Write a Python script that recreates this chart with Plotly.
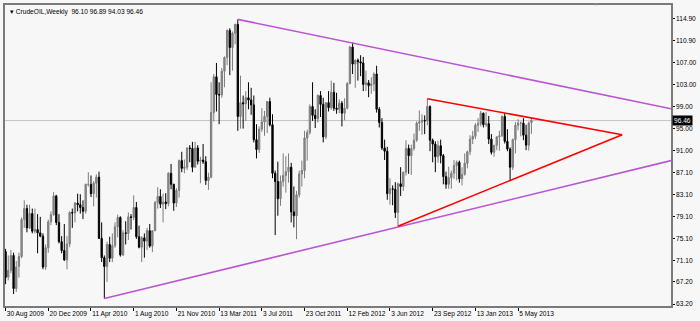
import plotly.graph_objects as go
import pandas as pd

# ---- weekly bars (MT4 week start = Sunday) ----
start_week = "2009-08-30"

opens = [
72.7,68.1,69.3,72.0,66.0,70.0,71.8,78.5,80.5,77.0,
79.6,76.4,76.7,76.1,75.5,69.9,73.4,78.1,79.4,82.8,
78.0,74.5,72.9,71.2,74.1,79.8,79.7,81.5,81.2,80.7,
80.0,84.9,84.9,83.2,85.1,86.2,75.1,71.6,70.0,74.0,
71.5,73.8,77.2,78.9,72.1,76.1,76.0,79.0,78.9,80.7,
75.4,73.5,75.2,74.6,76.5,73.7,76.5,81.6,82.7,81.3,
81.7,81.4,86.9,84.9,81.5,83.8,89.2,87.8,88.0,91.5,
91.4,88.0,91.5,89.1,89.3,89.0,85.6,86.2,97.9,104.4,
101.2,101.1,105.4,107.9,112.8,109.7,112.3,113.9,97.2,99.7,
99.5,100.6,100.2,99.3,93.0,91.2,94.9,96.2,97.2,99.9,
95.7,86.9,85.4,82.3,85.4,86.5,87.2,88.0,79.9,79.2,
83.0,86.8,87.4,93.3,94.3,99.0,97.4,96.8,101.0,99.4,
93.5,99.7,98.8,101.6,98.7,98.5,99.6,97.8,98.7,103.2,
109.8,106.7,107.4,107.1,106.9,103.0,103.3,102.8,103.1,104.9,
98.5,96.1,91.5,90.9,83.2,84.1,84.0,79.8,85.0,84.5,
87.1,91.4,90.1,91.4,92.9,96.0,96.2,96.5,96.4,99.0,
92.9,92.2,89.9,91.9,90.1,86.3,84.9,86.1,86.9,88.3,
88.9,85.9,86.7,88.7,90.8,93.1,93.6,95.6,95.9,97.8,
95.7,95.9,93.1,90.7,92.0,93.5,93.7,97.2,92.7,91.3,
88.0,93.0,95.6,96.0,96.0,93.8,92.0,96.10]

highs = [
73.2,72.0,73.0,72.5,71.0,72.5,78.9,82.0,81.2,81.2,
80.5,80.5,79.5,79.0,76.0,74.0,78.5,80.0,83.5,83.0,
79.5,75.5,77.7,75.5,80.0,80.5,81.7,83.2,83.1,82.0,
85.0,87.1,86.5,85.5,86.7,87.2,78.0,72.0,74.5,75.4,
76.0,78.0,79.4,79.1,76.6,78.2,79.8,79.5,82.9,81.7,
77.4,75.5,76.0,77.0,77.7,76.5,81.9,84.4,84.0,83.2,
83.3,87.1,88.6,85.0,84.2,89.4,90.8,89.4,91.6,92.0,
92.6,92.6,92.0,89.9,92.2,90.0,87.0,103.4,104.9,106.9,
103.4,106.0,108.1,113.0,113.2,112.6,114.0,114.8,104.6,101.0,
101.8,103.4,102.4,101.0,95.8,95.4,98.7,98.2,100.0,100.6,
97.6,87.4,89.0,86.5,90.5,90.0,90.5,88.8,84.5,83.7,
87.4,89.2,94.6,94.8,99.4,103.4,98.5,101.2,101.8,100.6,
99.8,101.8,103.7,103.3,101.5,100.3,100.0,100.5,103.4,110.0,
110.6,107.5,107.7,108.3,108.0,105.5,103.8,104.3,105.2,106.4,
98.9,96.9,93.0,91.7,86.0,84.7,85.3,85.2,88.0,87.2,
92.9,92.1,92.1,94.1,96.3,98.3,97.6,97.4,100.4,99.2,
93.2,92.7,92.8,93.0,90.4,87.2,88.1,87.4,89.3,89.2,
89.2,88.0,90.5,91.0,93.8,94.6,96.0,96.9,98.2,97.9,
98.0,97.3,94.0,92.0,93.6,94.6,97.4,97.8,94.9,91.6,
93.2,96.2,96.7,96.3,96.9,95.7,96.3,96.89]

lows = [
66.8,67.5,68.8,65.0,65.4,68.0,71.5,77.0,76.2,76.8,
76.0,76.0,72.4,75.3,69.5,69.4,72.5,77.5,79.2,77.5,
74.2,72.4,71.0,69.5,73.5,77.0,78.0,80.0,79.6,78.6,
79.6,84.5,82.6,80.9,82.5,75.0,70.8,64.2,67.2,70.8,
70.8,73.4,75.3,71.8,71.9,74.0,74.8,76.7,78.4,75.0,
73.3,70.8,71.6,73.0,73.4,72.6,76.4,80.5,80.6,78.0,
80.4,80.9,84.0,80.1,80.8,82.5,87.1,86.9,87.5,88.9,
87.1,88.0,88.5,85.1,88.6,84.8,83.9,86.0,96.3,98.1,
95.8,100.6,102.5,106.5,104.7,105.5,110.3,94.6,95.0,95.0,
96.4,98.5,97.5,92.5,89.6,90.6,94.4,93.7,94.2,95.4,
86.0,75.7,79.2,81.0,84.5,83.4,85.2,78.0,77.1,74.95,
82.5,84.5,86.0,89.2,93.9,96.4,95.1,96.1,97.1,92.5,
93.1,98.1,98.4,98.2,97.7,97.8,95.4,96.5,98.5,103.0,
104.9,102.4,103.7,104.5,101.8,101.8,100.7,101.3,101.8,97.9,
95.2,91.1,89.3,82.1,81.2,81.1,78.8,77.3,82.8,83.7,
86.5,86.8,86.6,91.0,92.6,94.6,93.9,94.0,95.6,90.9,
88.9,87.1,88.8,88.7,84.9,84.1,84.1,84.1,85.9,85.6,
85.2,84.7,86.5,87.8,90.2,92.2,93.1,94.4,95.4,95.2,
95.3,92.2,90.3,89.9,91.1,91.0,93.5,92.3,90.9,85.6,
87.5,90.5,94.7,93.6,92.9,91.1,91.0,94.03]

closes = [
68.0,69.3,72.0,66.0,69.9,71.8,78.5,80.5,77.0,79.6,
76.4,76.7,76.1,75.5,69.9,73.4,78.1,79.4,82.8,78.0,
74.5,72.9,71.2,74.1,79.8,79.7,81.5,81.2,80.7,80.0,
84.9,84.9,83.2,85.1,86.2,75.1,71.6,70.0,74.0,71.5,
73.8,77.2,78.9,72.1,76.1,76.0,79.0,78.9,80.7,75.4,
73.5,75.2,74.6,76.5,73.7,76.5,81.6,82.7,81.3,81.7,
81.4,86.9,84.9,81.5,83.8,89.2,87.8,88.0,91.5,91.4,
88.0,91.5,89.1,89.3,89.0,85.6,86.2,97.9,104.4,101.2,
101.1,105.4,107.9,112.8,109.7,112.3,113.9,97.2,99.7,99.5,
100.6,100.2,99.3,93.0,91.2,94.9,96.2,97.2,99.9,95.7,
86.9,85.4,82.3,85.4,86.5,87.2,88.0,79.9,79.2,83.0,
86.8,87.4,93.3,94.3,99.0,97.4,96.8,101.0,99.4,93.5,
99.7,98.8,101.6,98.7,98.5,99.6,97.8,98.7,103.2,109.8,
106.7,107.4,107.1,106.9,103.0,103.3,102.8,103.1,104.9,98.5,
96.1,91.5,90.9,83.2,84.1,84.0,79.8,85.0,84.5,87.1,
91.4,90.1,91.4,92.9,96.0,96.2,96.5,96.4,99.0,92.9,
92.2,89.9,91.9,90.1,86.3,84.9,86.1,86.9,88.3,88.9,
85.9,86.7,88.7,90.8,93.1,93.6,95.6,95.9,97.8,95.7,
95.9,93.1,90.7,92.0,93.5,93.7,97.2,92.7,91.3,88.0,
93.0,95.6,96.0,96.0,93.8,92.0,96.0,96.46]

# ---- trend lines (date, price) ----
upper_purple_x = ["2011-05-01", "2014-06-10"]
upper_purple_y = [114.8, 98.6]
lower_purple_x = ["2010-05-16", "2014-06-10"]
lower_purple_y = [64.2, 89.2]
red_upper_x = ["2012-09-09", "2014-02-02"]
red_upper_y = [100.4, 93.9]
red_lower_x = ["2012-06-24", "2014-02-02"]
red_lower_y = [77.3, 93.9]

# ---- axis ticks ----
x_tick_dates = ["2009-08-30", "2009-12-20", "2010-04-11", "2010-08-01", "2010-11-21",
                "2011-03-13", "2011-07-03", "2011-10-23", "2012-02-12", "2012-06-03",
                "2012-09-23", "2013-01-13", "2013-05-05"]
x_tick_text = ["30 Aug 2009", "20 Dec 2009", "11 Apr 2010", "1 Aug 2010", "21 Nov 2010",
               "13 Mar 2011", "3 Jul 2011", "23 Oct 2011", "12 Feb 2012", "3 Jun 2012",
               "23 Sep 2012", "13 Jan 2013", "5 May 2013"]
y_tick_vals = [63.2, 67.2, 71.1, 75.1, 79.1, 83.1, 87.1, 91.0, 95.0, 99.0, 103.0, 107.0, 110.9, 114.9]
y_tick_text = ["63.20", "67.20", "71.10", "75.10", "79.10", "83.10", "87.10", "91.00",
               "95.00", "99.00", "103.00", "107.00", "110.90", "114.90"]

dates = pd.date_range(start_week, periods=len(closes), freq="7D")

FONT = "Liberation Sans"
BG = "#f7f7f7"
AX = "#7a7a7a"

fig = go.Figure()
fig.add_trace(go.Candlestick(
    x=dates, open=opens, high=highs, low=lows, close=closes,
    increasing=dict(line=dict(color="#7c7c7c", width=1), fillcolor="#909090"),
    decreasing=dict(line=dict(color="#000000", width=1), fillcolor="#000000"),
    whiskerwidth=0, hoverinfo="skip", showlegend=False))

for xs, ys, col in [(upper_purple_x, upper_purple_y, "#BA55D3"),
                    (lower_purple_x, lower_purple_y, "#BA55D3"),
                    (red_upper_x, red_upper_y, "#FF0000"),
                    (red_lower_x, red_lower_y, "#FF0000")]:
    fig.add_trace(go.Scatter(x=xs, y=ys, mode="lines", line=dict(color=col, width=1.6),
                             hoverinfo="skip", showlegend=False))

fig.add_shape(type="line", xref="paper", x0=0, x1=1, yref="y", y0=closes[-1], y1=closes[-1],
              line=dict(color="#c4c4c4", width=1), layer="below")

fig.add_annotation(xref="paper", yref="paper", x=0, y=1, xanchor="left", yanchor="top",
                   xshift=3, yshift=-1, showarrow=False,
                   text="▾ CrudeOIL,Weekly  %.2f %.2f %.2f %.2f" % (opens[-1], highs[-1], lows[-1], closes[-1]),
                   font=dict(family=FONT, size=6.6, color="#000000"))
fig.add_annotation(xref="paper", yref="y", x=1, y=closes[-1], xanchor="left", yanchor="middle",
                   xshift=1, showarrow=False, text="%.2f" % closes[-1],
                   bgcolor="#000000", borderpad=1,
                   font=dict(family=FONT, size=6.6, color="#ffffff"))
fig.add_annotation(xref="paper", yref="paper", x=0.888, y=1, xanchor="center", yanchor="middle",
                   yshift=1, showarrow=False, text="▼",
                   font=dict(family=FONT, size=5, color="#909090"))

fig.update_layout(
    width=700, height=321,
    margin=dict(l=3, r=28, t=3, b=14),
    paper_bgcolor=BG, plot_bgcolor=BG,
    font=dict(family=FONT, size=6.6, color="#000000"),
    xaxis=dict(type="date", range=["2009-08-28 12:00", "2014-06-10"],
               rangeslider=dict(visible=False), showgrid=False, zeroline=False,
               showline=True, mirror=True, linecolor=AX, linewidth=1.5,
               ticks="outside", ticklen=3, tickcolor="#000000", tickwidth=1,
               tickvals=x_tick_dates, ticktext=x_tick_text, tickangle=0,
               ticklabelposition="outside right",
               tickfont=dict(family=FONT, size=6.6, color="#000000")),
    yaxis=dict(side="right", range=[62.84, 117.41], showgrid=False, zeroline=False,
               showline=True, mirror=True, linecolor=AX, linewidth=1.5,
               ticks="outside", ticklen=2, tickcolor="#000000", tickwidth=1,
               tickvals=y_tick_vals, ticktext=y_tick_text,
               tickfont=dict(family=FONT, size=6.6, color="#000000")),
)

fig.write_html("out.html")
